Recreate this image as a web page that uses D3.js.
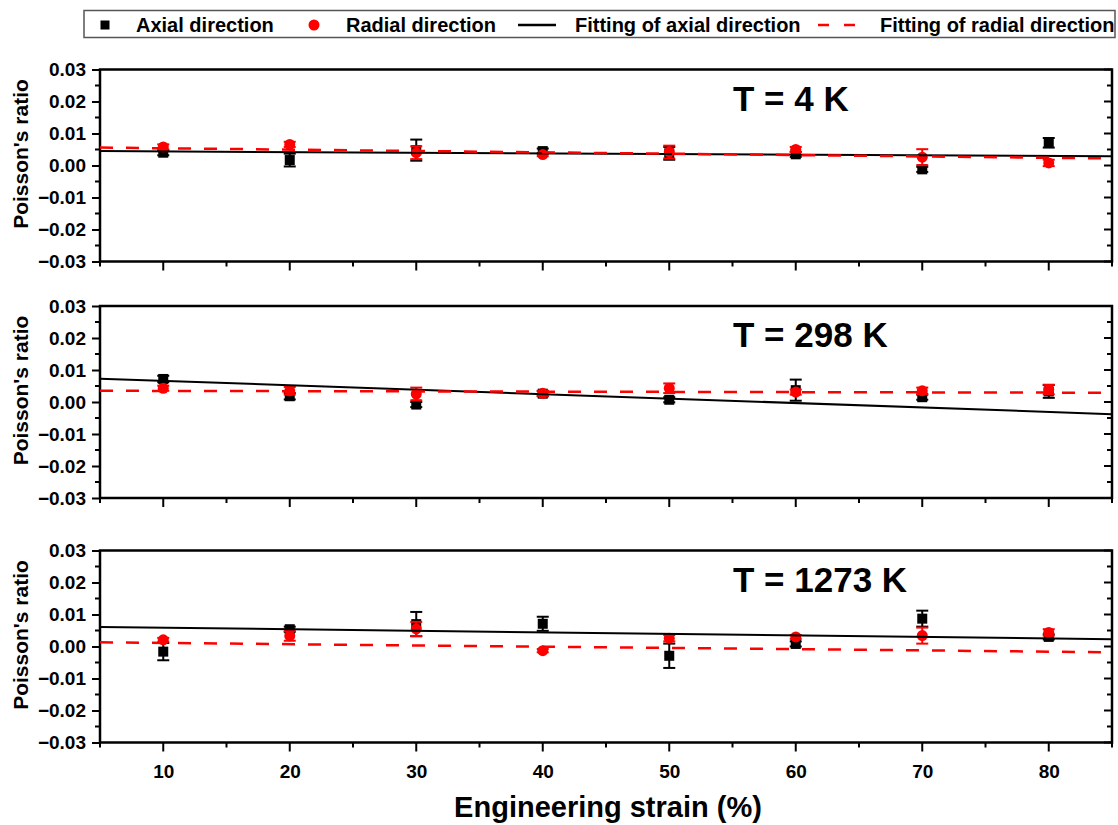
<!DOCTYPE html>
<html>
<head>
<meta charset="utf-8">
<script src="https://cdn.jsdelivr.net/npm/d3@7"></script>
<style>
    body { margin: 0; background: #fff; }
    text { font-family: "Liberation Sans", Arial, sans-serif; font-weight: bold; fill: #000; }
</style>
</head>
<body>
<script>
//engineering strain (%) shared by all panels
var strain = [10, 20, 30, 40, 50, 60, 70, 80];

//T = 4 K
var axial4 = [0.0040, 0.0017, 0.0048, 0.0045, 0.0038, 0.0035, -0.0012, 0.0071];
var axial4Err = [0.0008, 0.0020, 0.0033, 0.0008, 0.0020, 0.0008, 0.0008, 0.0015];
var radial4 = [0.0058, 0.0066, 0.0040, 0.0034, 0.0042, 0.0050, 0.0026, 0.0008];
var radial4Err = [0.0008, 0.0008, 0.0020, 0.0005, 0.0020, 0.0008, 0.0025, 0.0010];

//T = 298 K
var axial298 = [0.0072, 0.0018, -0.0008, 0.0026, 0.0007, 0.0037, 0.0015, 0.0033];
var axial298Err = [0.0010, 0.0010, 0.0008, 0.0008, 0.0008, 0.0033, 0.0008, 0.0020];
var radial298 = [0.0043, 0.0035, 0.0025, 0.0027, 0.0043, 0.0031, 0.0035, 0.0039];
var radial298Err = [0.0008, 0.0012, 0.0020, 0.0008, 0.0015, 0.0008, 0.0010, 0.0015];

//T = 1273 K
var axial1273 = [-0.0016, 0.0054, 0.0070, 0.0071, -0.0029, 0.0008, 0.0087, 0.0030];
var axial1273Err = [0.0027, 0.0008, 0.0038, 0.0022, 0.0038, 0.0008, 0.0025, 0.0008];
var radial1273 = [0.0021, 0.0033, 0.0055, -0.0013, 0.0026, 0.0030, 0.0034, 0.0044];
var radial1273Err = [0.0006, 0.0015, 0.0022, 0.0005, 0.0010, 0.0006, 0.0025, 0.0010];

//fitted lines, value at strain 5 and 85
var fitStrain = [5, 85];
var fitAxial4 = [0.0045, 0.0029];
var fitRadial4 = [0.0056, 0.0022];
var fitAxial298 = [0.0073, -0.0038];
var fitRadial298 = [0.0035, 0.0029];
var fitAxial1273 = [0.0061, 0.0023];
var fitRadial1273 = [0.0013, -0.0018];

var panelLabels = ["T = 4 K", "T = 298 K", "T = 1273 K"];
var xTicks = [10, 20, 30, 40, 50, 60, 70, 80];
var yTicks = [-0.03, -0.02, -0.01, 0.00, 0.01, 0.02, 0.03];
var legendLabels = ["Axial direction", "Radial direction", "Fitting of axial direction", "Fitting of radial direction"];

window.onload = drawChart();

function drawChart(){

    var width = 1118,
        height = 825;

    var svg = d3.select("body")
        .append("svg")
        .attr("width", width)
        .attr("height", height);

    //panel frames
    var left = 100, right = 1112;
    var panelTops = [69.5, 306, 550.5];
    var panelH = 192;

    var panels = [
        {label: panelLabels[0], axial: axial4, axialErr: axial4Err, radial: radial4, radialErr: radial4Err, fitA: fitAxial4, fitR: fitRadial4},
        {label: panelLabels[1], axial: axial298, axialErr: axial298Err, radial: radial298, radialErr: radial298Err, fitA: fitAxial298, fitR: fitRadial298},
        {label: panelLabels[2], axial: axial1273, axialErr: axial1273Err, radial: radial1273, radialErr: radial1273Err, fitA: fitAxial1273, fitR: fitRadial1273}
    ];

    var x = d3.scaleLinear().domain([5, 85]).range([left, right]);

    panels.forEach(function(p, i){
        var top = panelTops[i],
            bottom = top + panelH;
        var y = d3.scaleLinear().domain([-0.03, 0.03]).range([bottom, top]);

        var g = svg.append("g").attr("class", "panel");

        //minor ticks every 0.005 / 5 %
        var yMinor = d3.range(-0.03, 0.0301, 0.005);
        var xMinor = d3.range(5, 85.01, 5);

        //left axis, ticks outward
        var yAxis = d3.axisLeft(y).tickValues(yTicks).tickSize(8).tickPadding(6);
        var ga = g.append("g").attr("transform", "translate(" + left + ",0)").call(yAxis);
        ga.select(".domain").remove();
        ga.selectAll("line").attr("stroke", "#000").attr("stroke-width", 2);
        ga.selectAll("text").style("font-size", "19px").text(function(d){ return Math.abs(d) < 1e-9 ? "0.00" : d3.format(".2f")(d); });
        g.append("g").selectAll("line").data(yMinor.filter(function(d){ return Math.abs(Math.round(d * 1000) % 10) === 5; }))
            .enter().append("line")
            .attr("x1", left - 5).attr("x2", left)
            .attr("y1", function(d){ return y(d); }).attr("y2", function(d){ return y(d); })
            .attr("stroke", "#000").attr("stroke-width", 2);

        //right axis, ticks inward
        g.append("g").selectAll("line").data(yMinor)
            .enter().append("line")
            .attr("x1", function(d){ return Math.abs(Math.round(d * 1000) % 10) === 5 ? right - 5 : right - 8; })
            .attr("x2", right)
            .attr("y1", function(d){ return y(d); }).attr("y2", function(d){ return y(d); })
            .attr("stroke", "#000").attr("stroke-width", 2);

        //bottom ticks, outward
        g.append("g").selectAll("line").data(xMinor)
            .enter().append("line")
            .attr("x1", function(d){ return x(d); }).attr("x2", function(d){ return x(d); })
            .attr("y1", bottom)
            .attr("y2", function(d){ return d % 10 === 0 ? bottom + 9 : bottom + 5; })
            .attr("stroke", "#000").attr("stroke-width", 2);

        if (i === 2){
            var xAxis = d3.axisBottom(x).tickValues(xTicks).tickSize(0).tickPadding(22);
            var gx = g.append("g").attr("transform", "translate(0," + bottom + ")").call(xAxis);
            gx.select(".domain").remove();
            gx.selectAll("text").style("font-size", "19px");
        }

        //frame
        g.append("rect")
            .attr("x", left).attr("y", top)
            .attr("width", right - left).attr("height", panelH)
            .attr("fill", "none").attr("stroke", "#000").attr("stroke-width", 2.5);

        //y title
        g.append("text")
            .attr("transform", "translate(28," + (top + panelH / 2 - 11.5) + ") rotate(-90)")
            .attr("text-anchor", "middle")
            .style("font-size", "21px")
            .text("Poisson's ratio");

        //panel label
        g.append("text")
            .attr("x", 733).attr("y", top + 41)
            .style("font-size", "35px")
            .text(p.label);

        //error bars
        function errBars(vals, errs, color){
            var eg = g.append("g");
            strain.forEach(function(s, k){
                var cx = x(s), y0 = y(vals[k] - errs[k]), y1 = y(vals[k] + errs[k]);
                eg.append("line").attr("x1", cx).attr("x2", cx).attr("y1", y0).attr("y2", y1)
                    .attr("stroke", color).attr("stroke-width", 2);
                [y0, y1].forEach(function(yy){
                    eg.append("line").attr("x1", cx - 6).attr("x2", cx + 6).attr("y1", yy).attr("y2", yy)
                        .attr("stroke", color).attr("stroke-width", 2);
                });
            });
        }

        errBars(p.axial, p.axialErr, "#000");
        g.append("g").selectAll("rect").data(strain)
            .enter().append("rect")
            .attr("x", function(d){ return x(d) - 5; })
            .attr("y", function(d, k){ return y(p.axial[k]) - 5; })
            .attr("width", 10).attr("height", 10)
            .attr("fill", "#000");

        errBars(p.radial, p.radialErr, "#ff0000");
        g.append("g").selectAll("circle").data(strain)
            .enter().append("circle")
            .attr("cx", function(d){ return x(d); })
            .attr("cy", function(d, k){ return y(p.radial[k]); })
            .attr("r", 5.5)
            .attr("fill", "#ff0000");

        //fit lines
        var line = d3.line()
            .x(function(d){ return x(d[0]); })
            .y(function(d){ return y(d[1]); });

        g.append("path")
            .datum(fitStrain.map(function(s, k){ return [s, p.fitA[k]]; }))
            .attr("d", line)
            .attr("fill", "none").attr("stroke", "#000").attr("stroke-width", 2);

        g.append("path")
            .datum(fitStrain.map(function(s, k){ return [s, p.fitR[k]]; }))
            .attr("d", line)
            .attr("fill", "none").attr("stroke", "#ff0000").attr("stroke-width", 2.5)
            .attr("stroke-dasharray", "13,13");
    });

    //x title
    svg.append("text")
        .attr("x", 608).attr("y", 817)
        .attr("text-anchor", "middle")
        .style("font-size", "29px")
        .text("Engineering strain (%)");

    //legend
    var legend = svg.append("g").attr("class", "legend");
    legend.append("rect")
        .attr("x", 84).attr("y", 10.5)
        .attr("width", 1031).attr("height", 27)
        .attr("fill", "#fff").attr("stroke", "#555").attr("stroke-width", 1.5);

    var ly = 25;
    legend.append("rect").attr("x", 100.5).attr("y", ly - 4.5).attr("width", 9).attr("height", 9).attr("fill", "#000");
    legend.append("circle").attr("cx", 314).attr("cy", ly).attr("r", 5.5).attr("fill", "#ff0000");
    legend.append("line").attr("x1", 518).attr("x2", 556).attr("y1", ly).attr("y2", ly)
        .attr("stroke", "#000").attr("stroke-width", 2.5);
    legend.append("line").attr("x1", 818).attr("x2", 856).attr("y1", ly).attr("y2", ly)
        .attr("stroke", "#ff0000").attr("stroke-width", 2.5).attr("stroke-dasharray", "11,15");

    var textX = [136, 346, 575, 880];
    legend.selectAll(".ltext").data(legendLabels)
        .enter().append("text")
        .attr("class", "ltext")
        .attr("x", function(d, k){ return textX[k]; })
        .attr("y", 32)
        .style("font-size", "20px")
        .text(function(d){ return d; });
};
</script>
</body>
</html>
